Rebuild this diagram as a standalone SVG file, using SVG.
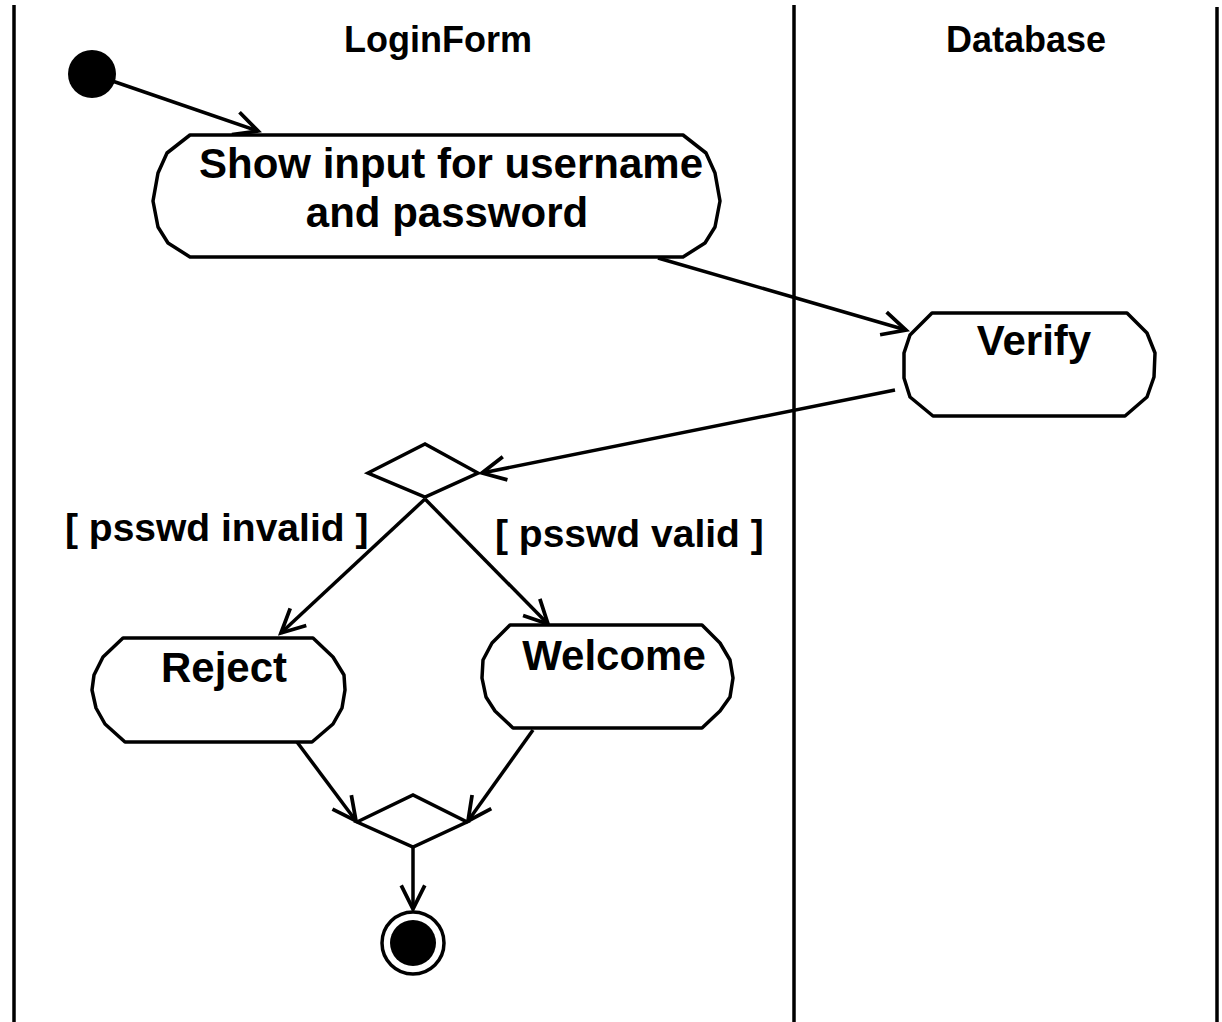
<svg xmlns="http://www.w3.org/2000/svg" width="1222" height="1022" viewBox="0 0 1222 1022">
<defs>
<style>
.lane{stroke:#000;stroke-width:3.5;fill:none}
.act{fill:#fff;stroke:#000;stroke-width:3.5;stroke-linejoin:round}
.dec{fill:#fff;stroke:#000;stroke-width:3.5}
.edge{stroke:#000;stroke-width:3.5;fill:none}
text{font-family:"Liberation Sans",Arial,sans-serif;font-weight:bold;fill:#000}
.hdr{font-size:36px;text-anchor:middle}
.lbl{font-size:42px;text-anchor:middle}
.grd{font-size:39px}
</style>
<marker id="arr" markerUnits="userSpaceOnUse" markerWidth="30" markerHeight="30" viewBox="-24 -14 28 28" refX="0" refY="0" orient="auto">
<path d="M-22,-11 L0,0 L-22,11" fill="none" stroke="#000" stroke-width="3.5"/>
</marker>
</defs>
<rect width="1222" height="1022" fill="#fff"/>
<g id="lanes">
<line class="lane" x1="14" y1="5" x2="14" y2="1022"/>
<line class="lane" x1="794" y1="5" x2="794" y2="1022"/>
<line class="lane" x1="1217" y1="7" x2="1217" y2="1022"/>
<text class="hdr" x="438" y="52">LoginForm</text>
<text class="hdr" x="1026" y="52">Database</text>
</g>
<g id="edges">
<line class="edge" x1="92" y1="74" x2="258" y2="131" marker-end="url(#arr)"/>
<line class="edge" x1="658" y1="258" x2="906" y2="330" marker-end="url(#arr)"/>
<line class="edge" x1="895" y1="390" x2="482" y2="473" marker-end="url(#arr)"/>
<line class="edge" x1="425" y1="499" x2="281" y2="633" marker-end="url(#arr)"/>
<line class="edge" x1="425" y1="499" x2="548" y2="624" marker-end="url(#arr)"/>
<line class="edge" x1="297" y1="742" x2="356" y2="821" marker-end="url(#arr)"/>
<line class="edge" x1="533" y1="730" x2="468" y2="821" marker-end="url(#arr)"/>
<line class="edge" x1="413" y1="847" x2="413" y2="909" marker-end="url(#arr)"/>
<text class="grd" x="65" y="541">[ psswd invalid ]</text>
<text class="grd" x="495" y="547">[ psswd valid ]</text>
</g>
<g id="start">
<circle cx="92" cy="74" r="24" fill="#000"/>
</g>
<g id="showInput">
<polygon class="act" points="190,135 683,135 706,153 715,173 720,201 715,227 705,243 683,257 190,257 168,243 158,227 153,201 158,173 167,153"/>
<text class="lbl" x="451" y="178">Show input for username</text>
<text class="lbl" x="447" y="227">and password</text>
</g>
<g id="verify">
<polygon class="act" points="932,313 1127,313 1147,333 1155,353 1154,377 1147,397 1125,416 933,416 910,397 904,378 904,353 910,335"/>
<text class="lbl" x="1034" y="355">Verify</text>
</g>
<g id="decision">
<polygon class="dec" points="368,473 425,444 478,473 425,497"/>
</g>
<g id="reject">
<polygon class="act" points="123,638 313,638 333,657 344,675 345,690 342,708 333,724 312,742 125,742 105,724 96,708 92,690 94,675 103,657"/>
<text class="lbl" x="224" y="682">Reject</text>
</g>
<g id="welcome">
<polygon class="act" points="510,625 702,625 720,643 730,660 733,678 730,697 720,711 702,728 513,728 495,711 486,697 482,678 483,660 492,643"/>
<text class="lbl" x="614" y="670">Welcome</text>
</g>
<g id="merge">
<polygon class="dec" points="357,822 413,795 467,822 413,847"/>
</g>
<g id="final">
<circle cx="413" cy="943" r="31" fill="#fff" stroke="#000" stroke-width="3.5"/>
<circle cx="413" cy="943" r="23" fill="#000"/>
</g>
</svg>
